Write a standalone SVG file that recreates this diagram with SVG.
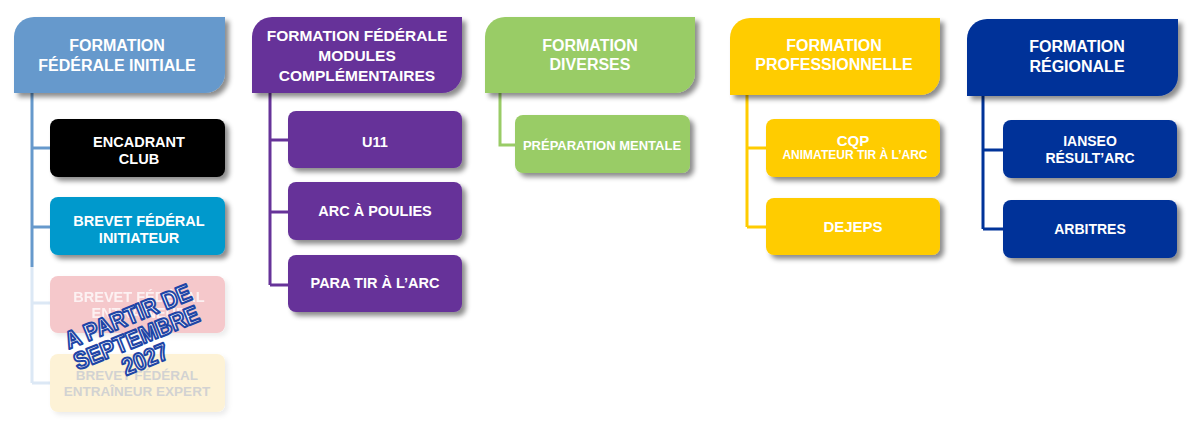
<svg xmlns="http://www.w3.org/2000/svg" width="1200" height="428" viewBox="0 0 1200 428">
<defs>
<filter id="sh" x="-10%" y="-20%" width="130%" height="150%">
<feDropShadow dx="4" dy="4" stdDeviation="2.5" flood-color="#000" flood-opacity="0.45"/>
</filter>
<filter id="shf" x="-10%" y="-20%" width="130%" height="150%">
<feDropShadow dx="3" dy="3" stdDeviation="2.5" flood-color="#000" flood-opacity="0.08"/>
</filter>
<style>
text{font-family:"Liberation Sans",Arial,sans-serif;font-weight:bold;text-anchor:middle;fill:#fff}
.h{font-size:16px}
.c{font-size:14.5px}
.ln{fill:none;stroke-width:3}
.ov{font-size:21px;fill:#fff;stroke:#1e45a6;stroke-width:1.8;stroke-linejoin:round}
</style>
</defs>
<rect width="1200" height="428" fill="#fff"/>

<g id="connectors">
<path class="ln" stroke="#dce8f5" d="M32,267 V383 M32,303 H50 M32,383 H50"/>
<path class="ln" stroke="#6699cc" d="M32,93 V267 M32,148 H50 M32,227 H50"/>
<path class="ln" stroke="#663399" d="M270,93 V285 M270,140 H288 M270,212 H288 M270,285 H288"/>
<path class="ln" stroke="#99cc66" d="M500,93 V145 H515"/>
<path class="ln" stroke="#ffcc00" d="M747,95 V227 M747,148 H766 M747,227 H766"/>
<path class="ln" stroke="#003399" d="M983,96 V229 M983,150 H1003 M983,229 H1003"/>
</g>

<g id="h1">
<path filter="url(#sh)" fill="#6699cc" d="M34,17 H225 V73 A20,20 0 0 1 205,93 H14 V37 A20,20 0 0 1 34,17 Z"/>
<text class="h" x="117" y="51">FORMATION</text>
<text class="h" x="117" y="71">FÉDÉRALE INITIALE</text>
</g>
<g id="n1a">
<rect filter="url(#sh)" x="50" y="119" width="175" height="58" rx="8" fill="#000"/>
<text class="c" x="139" y="147">ENCADRANT</text>
<text class="c" x="139" y="164">CLUB</text>
</g>
<g id="n1b">
<rect filter="url(#sh)" x="50" y="197" width="175" height="58" rx="8" fill="#0099cc"/>
<text class="c" x="139" y="226">BREVET FÉDÉRAL</text>
<text class="c" x="139" y="243">INITIATEUR</text>
</g>
<g id="n1c">
<rect filter="url(#shf)" x="50" y="276" width="175" height="57" rx="8" fill="#f5c8cb"/>
<text class="c" x="139" y="302" style="fill:#fff;opacity:0.75">BREVET FÉDÉRAL</text>
<text class="c" x="139" y="318" style="fill:#fff;opacity:0.75">ENTRAÎNEUR</text>
</g>
<g id="n1d">
<rect filter="url(#shf)" x="50" y="354" width="175" height="58" rx="8" fill="#fdf2d6"/>
<text class="c" x="137" y="380" style="fill:#d2d2d2;font-size:13.5px">BREVET FÉDÉRAL</text>
<text class="c" x="137" y="396" style="fill:#d2d2d2;font-size:13.5px">ENTRAÎNEUR EXPERT</text>
</g>

<g id="h2">
<path filter="url(#sh)" fill="#663399" d="M272,17 H462 V73 A20,20 0 0 1 442,93 H252 V37 A20,20 0 0 1 272,17 Z"/>
<text class="h" x="357" y="41" style="font-size:15.5px">FORMATION FÉDÉRALE</text>
<text class="h" x="357" y="61" style="font-size:15.5px">MODULES</text>
<text class="h" x="357" y="81" style="font-size:15.5px">COMPLÉMENTAIRES</text>
</g>
<g id="n2a">
<rect filter="url(#sh)" x="288" y="111" width="174" height="57" rx="8" fill="#663399"/>
<text class="c" x="375" y="147">U11</text>
</g>
<g id="n2b">
<rect filter="url(#sh)" x="288" y="182" width="174" height="58" rx="8" fill="#663399"/>
<text class="c" x="375" y="216">ARC À POULIES</text>
</g>
<g id="n2c">
<rect filter="url(#sh)" x="288" y="255" width="174" height="57" rx="8" fill="#663399"/>
<text class="c" x="375" y="288">PARA TIR À L’ARC</text>
</g>

<g id="h3">
<path filter="url(#sh)" fill="#99cc66" d="M505,17 H695 V73 A20,20 0 0 1 675,93 H485 V37 A20,20 0 0 1 505,17 Z"/>
<text class="h" x="590" y="51">FORMATION</text>
<text class="h" x="590" y="70">DIVERSES</text>
</g>
<g id="n3a">
<rect filter="url(#sh)" x="515" y="115" width="175" height="58" rx="8" fill="#99cc66"/>
<text class="c" x="602" y="150" style="font-size:13px">PRÉPARATION MENTALE</text>
</g>

<g id="h4">
<path filter="url(#sh)" fill="#ffcc00" d="M750,18 H940 V75 A20,20 0 0 1 920,95 H730 V38 A20,20 0 0 1 750,18 Z"/>
<text class="h" x="834" y="51">FORMATION</text>
<text class="h" x="834" y="70">PROFESSIONNELLE</text>
</g>
<g id="n4a">
<rect filter="url(#sh)" x="766" y="119" width="174" height="58" rx="8" fill="#ffcc00"/>
<text class="c" x="853" y="146" style="font-size:15px">CQP</text>
<text class="c" x="855" y="159" style="font-size:12px">ANIMATEUR TIR À L’ARC</text>
</g>
<g id="n4b">
<rect filter="url(#sh)" x="766" y="198" width="174" height="57" rx="8" fill="#ffcc00"/>
<text class="c" x="853" y="232" style="font-size:15px">DEJEPS</text>
</g>

<g id="h5">
<path filter="url(#sh)" fill="#003399" d="M987,19 H1178 V76 A20,20 0 0 1 1158,96 H967 V39 A20,20 0 0 1 987,19 Z"/>
<text class="h" x="1077" y="52">FORMATION</text>
<text class="h" x="1077" y="72">RÉGIONALE</text>
</g>
<g id="n5a">
<rect filter="url(#sh)" x="1003" y="120" width="174" height="58" rx="8" fill="#003399"/>
<text class="c" x="1090" y="146" style="font-size:14px">IANSEO</text>
<text class="c" x="1090" y="163" style="font-size:14px">RÉSULT’ARC</text>
</g>
<g id="n5b">
<rect filter="url(#sh)" x="1003" y="200" width="174" height="58" rx="8" fill="#003399"/>
<text class="c" x="1090" y="234" style="font-size:14px">ARBITRES</text>
</g>

<g id="overlay" transform="translate(137,339) rotate(-22) scale(1.02,1.15)">
<text class="ov" x="0" y="-14">A PARTIR DE</text>
<text class="ov" x="0" y="6">SEPTEMBRE</text>
<text class="ov" x="0" y="26">2027</text>
</g>
</svg>
